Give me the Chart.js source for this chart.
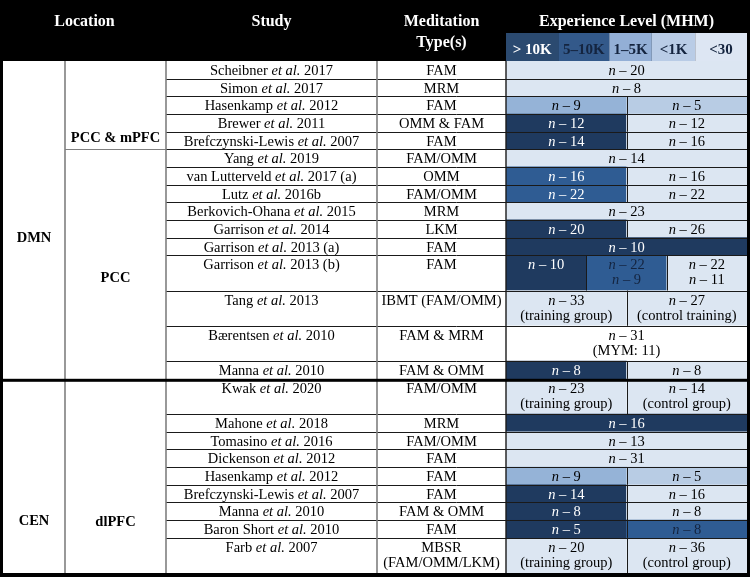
<!DOCTYPE html>
<html><head><meta charset="utf-8">
<script src="https://cdn.jsdelivr.net/npm/chart.js@4"></script>
<style>html,body{margin:0;padding:0;background:#fff}canvas{display:block}</style>
</head><body>
<canvas id="c" width="750" height="577"></canvas>
<script>
// ---------------- DATA ----------------
const studies = ["Scheibner et al. 2017","Simon et al. 2017","Hasenkamp et al. 2012","Brewer et al. 2011","Brefczynski-Lewis et al. 2007","Yang et al. 2019","van Lutterveld et al. 2017 (a)","Lutz et al. 2016b","Berkovich-Ohana et al. 2015","Garrison et al. 2014","Garrison et al. 2013 (a)","Garrison et al. 2013 (b)","Tang et al. 2013","Bærentsen et al. 2010","Manna et al. 2010","Kwak et al. 2020","Mahone et al. 2018","Tomasino et al. 2016","Dickenson et al. 2012","Hasenkamp et al. 2012","Brefczynski-Lewis et al. 2007","Manna et al. 2010","Baron Short et al. 2010","Farb et al. 2007"];
const meditationTypes = ["FAM","MRM","FAM","OMM & FAM","FAM","FAM/OMM","OMM","FAM/OMM","MRM","LKM","FAM","FAM","IBMT (FAM/OMM)","FAM & MRM","FAM & OMM","FAM/OMM","MRM","FAM/OMM","FAM","FAM","FAM","FAM & OMM","FAM","MBSR|(FAM/OMM/LKM)"];
const rowSpans = [1,1,1,1,1,1,1,1,1,1,1,2,2,2,1,2,1,1,1,1,1,1,1,2];
const networks = ["DMN","CEN"];
const networkRows = [[0,14],[15,23]];
const regions = ["PCC & mPFC","PCC","dlPFC"];
const regionRows = [[0,4],[5,14],[15,23]];
const levelLabels = ["> 10K","5–10K","1–5K","<1K","<30"];
// one entry per experience cell; from/to in sixths of the experience column; level 5 = no level (white)
const cellRows  = [0,1,2,2,3,3,4,4,5,6,6,7,7,8,9,9,10,11,11,11,12,12,13,14,14,15,15,16,17,18,19,19,20,20,21,21,22,22,23,23];
const cellFrom  = [0,0,0,3,0,3,0,3,0,0,3,0,3,0,0,3,0,0,2,4,0,3,0,0,3,0,3,0,0,0,0,3,0,3,0,3,0,3,0,3];
const cellTo    = [6,6,3,6,3,6,3,6,6,3,6,3,6,6,3,6,6,2,4,6,3,6,6,3,6,3,6,6,6,6,3,6,3,6,3,6,3,6,3,6];
const cellLevel = [4,4,2,3,0,4,0,4,4,1,4,1,4,4,0,4,0,0,1,4,4,4,5,0,4,4,4,0,4,4,2,3,0,4,0,4,0,1,4,4];
const cellText  = ["n – 20","n – 8","n – 9","n – 5","n – 12","n – 12","n – 14","n – 16","n – 14","n – 16","n – 16","n – 22","n – 22","n – 23","n – 20","n – 26","n – 10","n – 10","n – 22|n – 9","n – 22|n – 11","n – 33|(training group)","n – 27|(control training)","n – 31|(MYM: 11)","n – 8","n – 8","n – 23|(training group)","n – 14|(control group)","n – 16","n – 13","n – 31","n – 9","n – 5","n – 14","n – 16","n – 8","n – 8","n – 5","n – 8","n – 20|(training group)","n – 36|(control group)"];

// ---------------- STYLE / LAYOUT ----------------
const FILL = ['#1F3A5F','#2F5C93','#95B3D7','#B8CCE4','#DCE6F2','#FFFFFF'];
const LEGEND_FILL = ['#2B4A70','#33598A','#93AFD6','#B9CCE6','#DDE6F3'];
const LEGEND_INK = ['#FFFFFF','#14243F','#14243F','#14243F','#14243F'];
const legendEdges = [0,1.3,2.57,3.63,4.71,6];
const darkInkCells = [18,37];
const COL = {loc:[3,65], reg:[65,166], study:[166,377], type:[377,506], exp:[506,747]};
const HEADER_H = 61, LEG_TOP = 33;
const networkLabelY = [10.05, 26.05];
const regionLabelY = [4.4, 12.3, 26.1];
const LINE1 = 0.58, LINE2 = 1.43;
const FONT = '"Liberation Serif", "Times New Roman", serif';
const BODY = 14.5;

// ---------------- BUILD ----------------
const rowTop = []; let acc = 0;
rowSpans.forEach(s => { rowTop.push(acc); acc += s; });
const totalUnits = acc;
const singles = [], doubles = [];
cellRows.forEach((r, i) => {
  const pt = {x: [cellFrom[i], cellTo[i]], y: rowTop[r] + rowSpans[r] / 2, idx: i};
  (rowSpans[r] === 2 ? doubles : singles).push(pt);
});
const fillFor = ctx => (ctx.raw ? FILL[cellLevel[ctx.raw.idx]] : '#fff');

function segs(str) {
  if (/^n – /.test(str)) return [{t:'n', it:true}, {t:str.slice(1), it:false}];
  const k = str.indexOf('et al.');
  if (k >= 0) return [{t:str.slice(0,k), it:false}, {t:'et al.', it:true}, {t:str.slice(k+6), it:false}];
  return [{t:str, it:false}];
}
function drawRich(ctx, str, cx, cy, size, bold, color) {
  const parts = segs(str);
  const f = it => `${it ? 'italic ' : ''}${bold ? 'bold ' : ''}${size}px ${FONT}`;
  let w = 0;
  parts.forEach(p => { ctx.font = f(p.it); p.w = ctx.measureText(p.t).width; w += p.w; });
  let x = cx - w / 2;
  ctx.fillStyle = color; ctx.textBaseline = 'middle'; ctx.textAlign = 'left';
  parts.forEach(p => { ctx.font = f(p.it); ctx.fillText(p.t, x, cy); x += p.w; });
}
function hline(ctx, x0, x1, y, w, c) { ctx.beginPath(); ctx.strokeStyle = c; ctx.lineWidth = w; ctx.moveTo(x0, y); ctx.lineTo(x1, y); ctx.stroke(); }
function vline(ctx, x, y0, y1, w, c) { ctx.beginPath(); ctx.strokeStyle = c; ctx.lineWidth = w; ctx.moveTo(x, y0); ctx.lineTo(x, y1); ctx.stroke(); }

const tablePlugin = {
  id: 'table',
  beforeDraw(chart) {
    const ctx = chart.ctx;
    ctx.save(); ctx.fillStyle = '#fff'; ctx.fillRect(0, 0, chart.width, chart.height); ctx.restore();
  },
  afterDatasetsDraw(chart) {
    const ctx = chart.ctx, xs = chart.scales.x, ys = chart.scales.y, ca = chart.chartArea;
    const Y = u => ys.getPixelForValue(u);
    const X = u => xs.getPixelForValue(u);
    ctx.save();
    // header
    ctx.fillStyle = '#000'; ctx.fillRect(0, 0, chart.width, HEADER_H);
    ctx.fillStyle = '#fff'; ctx.textAlign = 'center'; ctx.textBaseline = 'middle';
    ctx.font = `bold 16px ${FONT}`;
    ctx.fillText('Location', (COL.loc[0] + COL.reg[1]) / 2, 22);
    ctx.fillText('Study', (COL.study[0] + COL.study[1]) / 2, 22);
    ctx.fillText('Meditation', (COL.type[0] + COL.type[1]) / 2, 22);
    ctx.fillText('Type(s)', (COL.type[0] + COL.type[1]) / 2, 43);
    ctx.fillText('Experience Level (MHM)', (ca.left + ca.right) / 2, 22);
    // legend swatches
    levelLabels.forEach((lab, i) => {
      const x0 = X(legendEdges[i]), x1 = X(legendEdges[i + 1]);
      ctx.fillStyle = LEGEND_FILL[i]; ctx.fillRect(x0, LEG_TOP, x1 - x0, HEADER_H - LEG_TOP);
      ctx.fillStyle = LEGEND_INK[i]; ctx.font = `bold 15px ${FONT}`; ctx.textAlign = 'center';
      ctx.fillText(lab, (x0 + x1) / 2, 50);
    });
    // horizontal row lines
    const sepRow = networkRows[1][0];
    rowTop.forEach((t, r) => {
      if (r === 0) return;
      if (r === sepRow) return;
      hline(ctx, COL.study[0], ca.right, Math.round(Y(t)) + 0.5, 1, '#1a1a1a');
    });
    // region boundaries in region column
    regionRows.forEach(rr => {
      if (rr[0] === 0 || rr[0] === sepRow) return;
      hline(ctx, COL.reg[0], COL.reg[1], Math.round(Y(rowTop[rr[0]])) + 0.5, 1, '#7f7f7f');
    });
    // cell splits
    cellRows.forEach((r, i) => {
      if (cellFrom[i] === 0) return;
      vline(ctx, Math.round(X(cellFrom[i])) + 0.5, Y(rowTop[r]), Y(rowTop[r] + rowSpans[r]), 1, '#1a1a1a');
    });
    // vertical column lines
    vline(ctx, COL.reg[0], HEADER_H, ca.bottom, 1.6, '#7f7f7f');
    vline(ctx, COL.study[0], HEADER_H, ca.bottom, 1.6, '#7f7f7f');
    vline(ctx, COL.type[0], HEADER_H, ca.bottom, 1.6, '#7f7f7f');
    vline(ctx, ca.left, HEADER_H, ca.bottom, 1.4, '#1a1a1a');
    // thick separator & borders
    ctx.fillStyle = '#000';
    ctx.fillRect(0, Y(rowTop[sepRow]), chart.width, 3);
    ctx.fillRect(0, 0, COL.loc[0], chart.height);
    ctx.fillRect(ca.right, 0, chart.width - ca.right, chart.height);
    ctx.fillRect(0, ca.bottom, chart.width, chart.height - ca.bottom);
    // cell texts
    cellRows.forEach((r, i) => {
      const lines = cellText[i].split('|');
      const lvl = cellLevel[i];
      const ink = (lvl === 0 || (lvl === 1 && !darkInkCells.includes(i))) ? '#FFFFFF' : (lvl === 1 ? '#14243F' : '#000');
      const cx = (X(cellFrom[i]) + X(cellTo[i])) / 2;
      lines.forEach((ln, k) => drawRich(ctx, ln, cx, Y(rowTop[r] + (k ? LINE2 : LINE1)), BODY, false, ink));
    });
    // study / type texts
    studies.forEach((s, r) => {
      drawRich(ctx, s, (COL.study[0] + COL.study[1]) / 2, Y(rowTop[r] + LINE1), BODY, false, '#000');
      meditationTypes[r].split('|').forEach((ln, k) =>
        drawRich(ctx, ln, (COL.type[0] + COL.type[1]) / 2, Y(rowTop[r] + (k ? LINE2 : LINE1)), BODY, false, '#000'));
    });
    // location labels
    networks.forEach((n, i) => drawRich(ctx, n, (COL.loc[0] + COL.loc[1]) / 2, Y(networkLabelY[i]), BODY, true, '#000'));
    regions.forEach((n, i) => drawRich(ctx, n, (COL.reg[0] + COL.reg[1]) / 2, Y(regionLabelY[i]), BODY, true, '#000'));
    ctx.restore();
  }
};

new Chart(document.getElementById('c'), {
  type: 'bar',
  data: {
    datasets: [
      {label: 'single-row cells', data: singles, backgroundColor: fillFor, borderWidth: 0, barPercentage: 1, categoryPercentage: 1, grouped: false},
      {label: 'double-row cells', data: doubles, backgroundColor: fillFor, borderWidth: 0, barPercentage: 2, categoryPercentage: 1, grouped: false}
    ]
  },
  options: {
    indexAxis: 'y',
    responsive: false,
    devicePixelRatio: 1,
    animation: false,
    layout: {padding: {left: COL.exp[0], right: 750 - COL.exp[1], top: HEADER_H, bottom: 4}},
    scales: {
      x: {type: 'linear', min: 0, max: 6, display: false, offset: false},
      y: {type: 'linear', min: 0, max: totalUnits, reverse: true, display: false, offset: false, ticks: {stepSize: 1}}
    },
    plugins: {legend: {display: false}, tooltip: {enabled: false}}
  },
  plugins: [tablePlugin]
});
</script>
</body></html>
